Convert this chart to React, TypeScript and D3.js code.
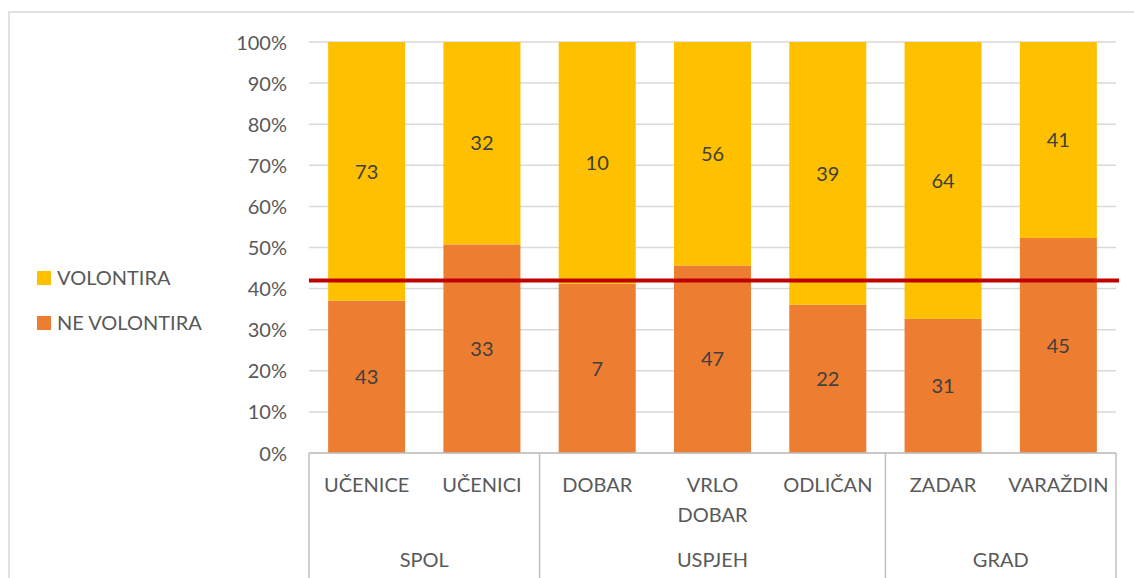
import * as d3 from "d3";

const categories = ["UČENICE", "UČENICI", "DOBAR", "VRLO DOBAR", "ODLIČAN", "ZADAR", "VARAŽDIN"];
const groups = [
  { name: "SPOL", from: 0, to: 1 },
  { name: "USPJEH", from: 2, to: 4 },
  { name: "GRAD", from: 5, to: 6 },
];
const neVolontira = [43, 33, 7, 47, 22, 31, 45];
const volontira = [73, 32, 10, 56, 39, 64, 41];
const referenceLine = 0.42;
const yTicks = [0, 0.1, 0.2, 0.3, 0.4, 0.5, 0.6, 0.7, 0.8, 0.9, 1];

const series = [
  { key: "NE VOLONTIRA", color: "#ED7D31", values: neVolontira },
  { key: "VOLONTIRA", color: "#FFC000", values: volontira },
];

const W = 1134;
const H = 578;
const margin = { top: 42, right: 18, bottom: 125, left: 309 };
const FONT = "Lato, 'Open Sans', sans-serif";

export default function App() {
  const x = d3
    .scaleBand<string>()
    .domain(categories)
    .range([margin.left, W - margin.right])
    .paddingInner(0.332)
    .paddingOuter(0.166);
  const y = d3.scaleLinear().domain([0, 1]).range([H - margin.bottom, margin.top]);
  const fmt = d3.format(".0%");
  const step = x.step();
  const left = margin.left;
  const right = W - margin.right;
  const base = y(0);

  const rows = categories.map((c, i) => {
    const total = neVolontira[i] + volontira[i];
    let acc = 0;
    return series.map((s) => {
      const v = s.values[i];
      const y0 = acc / total;
      acc += v;
      return { cat: c, key: s.key, color: s.color, v, y0, y1: acc / total };
    });
  });

  const boundaries = [left, ...groups.slice(1).map((g) => left + (x.paddingOuter() * 0 + g.from) * step), right];

  return (
    <svg
      width={W}
      height={H}
      style={{ position: "absolute", left: 0, top: 0, background: "#fff" }}
      fontFamily={FONT}
    >
      <rect x={9} y={12} width={W + 20} height={H + 20} fill="#fff" stroke="#d9d9d9" strokeWidth={1.5} />

      {/* gridlines */}
      {yTicks.map((t) => (
        <line key={t} x1={left} x2={right} y1={y(t)} y2={y(t)} stroke="#d9d9d9" strokeWidth={1.5} />
      ))}

      {/* y tick labels */}
      {yTicks.map((t) => (
        <text key={"l" + t} x={287} y={y(t) + 7.5} textAnchor="end" fontSize={20} fill="#595959">
          {fmt(t)}
        </text>
      ))}

      {/* bars */}
      {rows.map((segs) =>
        segs.map((d) => (
          <g key={d.cat + d.key}>
            <rect
              x={x(d.cat)}
              width={x.bandwidth()}
              y={y(d.y1)}
              height={y(d.y0) - y(d.y1)}
              fill={d.color}
            />
            <text
              x={(x(d.cat) ?? 0) + x.bandwidth() / 2}
              y={(y(d.y0) + y(d.y1)) / 2}
              dy="0.36em"
              textAnchor="middle"
              fontSize={20}
              fill="#404040"
            >
              {d.v}
            </text>
          </g>
        ))
      )}

      {/* reference line */}
      <line x1={left} x2={right + 3} y1={y(referenceLine)} y2={y(referenceLine)} stroke="#C00000" strokeWidth={4} />

      {/* category axis */}
      <line x1={left} x2={right} y1={base} y2={base} stroke="#bfbfbf" strokeWidth={1.5} />
      {boundaries.map((bx, i) => (
        <line key={"b" + i} x1={bx} x2={bx} y1={base} y2={H} stroke="#bfbfbf" strokeWidth={1.5} />
      ))}
      {categories.map((c) => {
        const lines = c === "VRLO DOBAR" ? ["VRLO", "DOBAR"] : [c];
        return (
          <text
            key={"c" + c}
            x={(x(c) ?? 0) + x.bandwidth() / 2}
            y={492}
            textAnchor="middle"
            fontSize={20}
            fill="#595959"
          >
            {lines.map((l, j) => (
              <tspan key={l} x={(x(c) ?? 0) + x.bandwidth() / 2} dy={j === 0 ? 0 : 30}>
                {l}
              </tspan>
            ))}
          </text>
        );
      })}
      {groups.map((g) => (
        <text
          key={g.name}
          x={left + ((g.from + g.to + 1) / 2) * step}
          y={567}
          textAnchor="middle"
          fontSize={20}
          fill="#595959"
        >
          {g.name}
        </text>
      ))}

      {/* legend */}
      {[series[1], series[0]].map((s, i) => (
        <g key={"lg" + s.key} transform={`translate(37, ${271 + i * 45})`}>
          <rect width={14} height={14} fill={s.color} />
          <text x={20} y={14} fontSize={20} fill="#595959">
            {s.key}
          </text>
        </g>
      ))}
    </svg>
  );
}
